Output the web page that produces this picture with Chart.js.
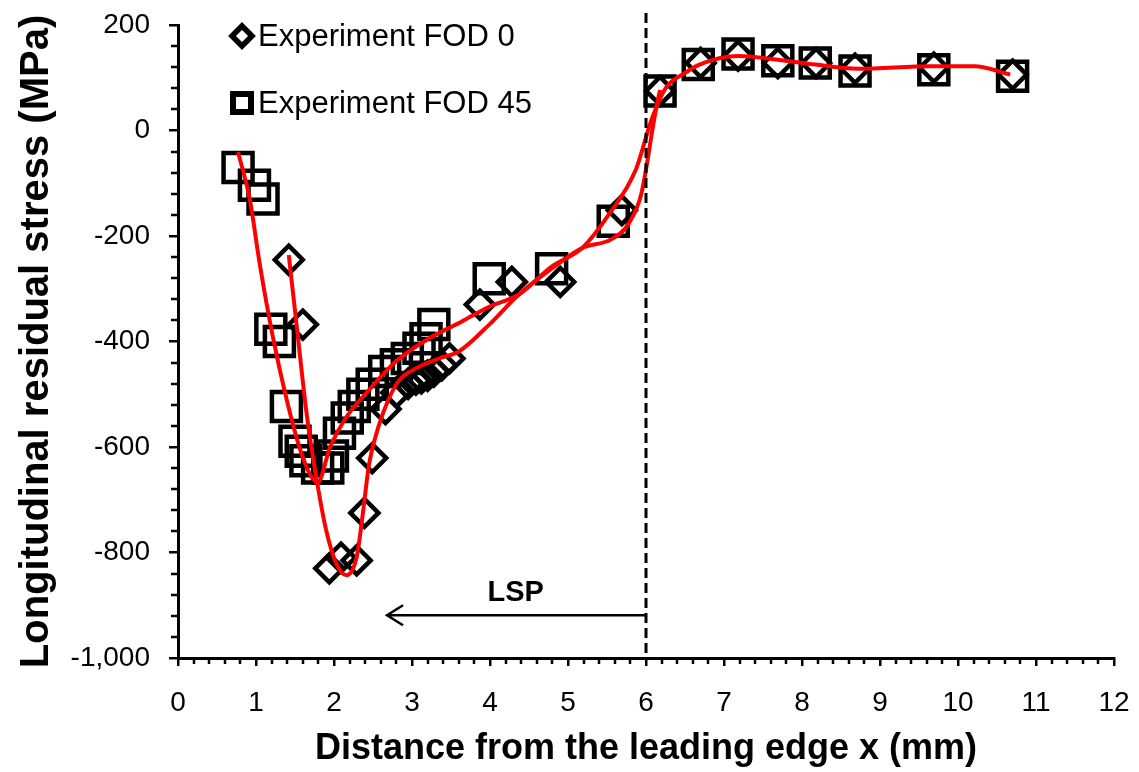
<!DOCTYPE html>
<html>
<head>
<meta charset="utf-8">
<script src="https://cdn.jsdelivr.net/npm/chart.js@4"></script>
<style>
body{margin:0;background:#fff}
#wrap{width:1139px;height:772px}
</style>
</head>
<body>
<div id="wrap"><canvas id="c"></canvas></div>
<script>

// measured points, experiment FOD 0 (diamonds)
const fod0X = [1.42,1.60,1.94,2.09,2.29,2.39,2.49,2.66,2.80,2.95,3.05,3.12,3.20,3.28,3.38,3.48,3.87,4.28,4.90,5.69,6.18,6.70,7.18,7.69,8.18,8.68,9.69,10.70]
const fod0Y = [-245,-368,-830,-810,-815,-725,-621,-528,-497,-480,-472,-470,-465,-457,-445,-432,-330,-287,-287,-151,75,128,142,128,128,117,119,106]

// measured points, experiment FOD 45 (squares)
const fod45X = [0.77,0.98,1.09,1.19,1.30,1.39,1.50,1.58,1.64,1.79,1.92,1.98,2.07,2.17,2.26,2.37,2.49,2.65,2.80,2.94,3.09,3.18,3.28,3.99,4.79,5.58,6.18,6.67,7.18,7.69,8.17,8.68,9.69,10.70]
const fod45Y = [-70,-104,-130,-377,-400,-523,-589,-608,-626,-640,-640,-617,-574,-545,-523,-500,-481,-457,-444,-432,-413,-395,-368,-281,-262,-172,75,125,145,132,128,113,115,103]

// red fitted curves
const fit45X = [0.77,0.92,1.05,1.22,1.39,1.56,1.69,1.79,1.95,2.15,2.40,2.80,3.22,3.64,3.99,4.37,4.79,5.18,5.52,5.87,6.07,6.25,6.50,6.67,7.18,7.69,8.17,8.72,9.65,10.21,10.67]
const fit45Y = [-41,-130,-255,-394,-508,-602,-651,-668,-600,-545,-500,-437,-394,-362,-334,-311,-258,-223,-160,-74,20,80,109,124,141,134,125,117,122,122,106]

const fit0X = [1.42,1.52,1.65,1.78,1.90,2.03,2.16,2.29,2.37,2.45,2.58,2.80,3.05,3.35,3.60,3.99,4.37,4.79,5.18,5.56,5.78,5.94,6.12,6.18]
const fit0Y = [-236,-368,-538,-664,-758,-821,-843,-809,-726,-632,-557,-481,-451,-432,-419,-368,-311,-262,-223,-206,-176,-120,34,77]

// axes
const xMin = 0, xMax = 12, xStep = 1, xMinor = 0.2
const yMin = -1000, yMax = 200, yStep = 200, yMinor = 40

// LSP marker
const lspX = 6
const lspArrowY = -919
const lspArrowTo = 2.68
const lspLabel = 'LSP'
const lspLabelX = 4.33
const lspLabelY = -877

const legendItems = [
  {label:'Experiment FOD 0', style:'diamond'},
  {label:'Experiment FOD 45', style:'square'}
]

const pts = (xs, ys) => xs.map((x,i) => ({x:x, y:ys[i]}))

Chart.defaults.font.family = '"Liberation Sans", Arial, sans-serif'
Chart.defaults.color = '#000'

/* ========== minor ticks, LSP line, legend ========== */
const extras = {
  id:'extras',
  afterDatasetsDraw(chart){
    const {ctx, chartArea:a, scales:{x,y}} = chart
    ctx.save()

    // minor ticks
    ctx.strokeStyle = '#000'
    ctx.lineWidth = 2.5
    ctx.beginPath()
    const nx = Math.round((xMax-xMin)/xMinor)
    for(let i=0;i<=nx;i++){
      if(i % Math.round(xStep/xMinor) === 0) continue
      const px = Math.round(x.getPixelForValue(xMin + i*xMinor))
      ctx.moveTo(px, a.bottom)
      ctx.lineTo(px, a.bottom + 6)
    }
    const ny = Math.round((yMax-yMin)/yMinor)
    for(let i=0;i<=ny;i++){
      if(i % Math.round(yStep/yMinor) === 0) continue
      const py = Math.round(y.getPixelForValue(yMin + i*yMinor))
      ctx.moveTo(a.left, py)
      ctx.lineTo(a.left - 7, py)
    }
    ctx.stroke()

    // dashed LSP boundary
    const lx = x.getPixelForValue(lspX)
    ctx.lineWidth = 3
    ctx.setLineDash([10,5])
    ctx.beginPath()
    ctx.moveTo(lx, a.top - 12)
    ctx.lineTo(lx, a.bottom)
    ctx.stroke()
    ctx.setLineDash([])

    // arrow
    const ay = y.getPixelForValue(lspArrowY)
    const ax = x.getPixelForValue(lspArrowTo)
    ctx.lineWidth = 2.5
    ctx.beginPath()
    ctx.moveTo(lx, ay)
    ctx.lineTo(ax, ay)
    ctx.moveTo(ax + 16, ay - 10)
    ctx.lineTo(ax, ay)
    ctx.lineTo(ax + 16, ay + 10)
    ctx.stroke()

    ctx.fillStyle = '#000'
    ctx.font = 'bold 29px "Liberation Sans", Arial, sans-serif'
    ctx.textAlign = 'center'
    ctx.textBaseline = 'middle'
    ctx.fillText(lspLabel, x.getPixelForValue(lspLabelX), y.getPixelForValue(lspLabelY))

    // legend inside plot
    ctx.textAlign = 'left'
    ctx.font = '31px "Liberation Sans", Arial, sans-serif'
    legendItems.forEach((it,i) => {
      const cx = a.left + 64
      const cy = a.top + 11 + i*67
      ctx.beginPath()
      if(it.style === 'diamond'){
        ctx.lineWidth = 5.5
        ctx.moveTo(cx-10, cy); ctx.lineTo(cx, cy-10); ctx.lineTo(cx+10, cy); ctx.lineTo(cx, cy+10)
        ctx.closePath()
      } else {
        ctx.lineWidth = 6
        ctx.rect(cx-9, cy-9, 18, 18)
      }
      ctx.stroke()
      ctx.fillText(it.label, cx + 16, cy + 1)
    })

    ctx.restore()
  }
}

new Chart(document.getElementById('c'), {
  type:'scatter',
  data:{
    datasets:[
      {
        label:'fit FOD 45',
        data:pts(fit45X, fit45Y),
        showLine:true,
        borderColor:'#ff0000',
        borderWidth:4,
        pointRadius:0,
        cubicInterpolationMode:'monotone',
        order:0
      },
      {
        label:'fit FOD 0',
        data:pts(fit0X, fit0Y),
        showLine:true,
        borderColor:'#ff0000',
        borderWidth:4,
        pointRadius:0,
        cubicInterpolationMode:'monotone',
        order:0
      },
      {
        label:'Experiment FOD 0',
        data:pts(fod0X, fod0Y),
        pointStyle:'rectRot',
        pointRadius:14,
        borderColor:'#000',
        borderWidth:4.5,
        backgroundColor:'rgba(0,0,0,0)',
        order:1
      },
      {
        label:'Experiment FOD 45',
        data:pts(fod45X, fod45Y),
        pointStyle:'rect',
        pointRadius:20.5,
        borderColor:'#000',
        borderWidth:4.5,
        backgroundColor:'rgba(0,0,0,0)',
        order:1
      }
    ]
  },
  options:{
    responsive:true,
    maintainAspectRatio:false,
    animation:false,
    events:[],
    layout:{padding:{top:22, right:22, left:0, bottom:0}},
    plugins:{legend:{display:false}, tooltip:{enabled:false}},
    scales:{
      x:{
        type:'linear', min:xMin, max:xMax,
        ticks:{stepSize:xStep, padding:20, font:{size:28}, color:'#000'},
        grid:{drawOnChartArea:false, drawTicks:true, tickLength:8, color:'#000', lineWidth:2.5},
        border:{display:true, color:'#000', width:3},
        title:{display:true, text:'Distance from the leading edge x (mm)', color:'#000',
               font:{size:36, weight:'bold'}, padding:{top:0, bottom:1}},
        afterFit:s => { s.height = 114; s.paddingLeft = 0; s.paddingRight = 0 }
      },
      y:{
        type:'linear', min:yMin, max:yMax,
        ticks:{stepSize:yStep, padding:19, font:{size:28}, color:'#000'},
        grid:{drawOnChartArea:false, drawTicks:true, tickLength:9, color:'#000', lineWidth:2.5},
        border:{display:true, color:'#000', width:3},
        title:{display:true, text:'Longitudinal residual stress (MPa)', color:'#000',
               font:{size:40, weight:'bold'}, padding:{top:13, bottom:0}},
        afterFit:s => { s.width = 178; s.paddingTop = 0; s.paddingBottom = 0 }
      }
    }
  },
  plugins:[extras]
})
</script>
</body>
</html>
